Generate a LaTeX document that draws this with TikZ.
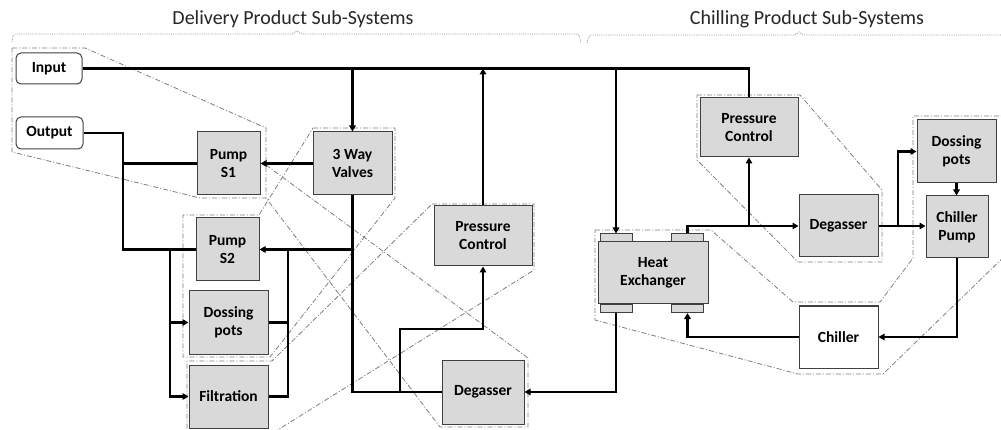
\documentclass[tikz,border=0pt]{standalone}
\usepackage{fontspec}
\setmainfont{Carlito}
\usetikzlibrary{arrows.meta}
\definecolor{boxfill}{HTML}{D9D9D9}
\definecolor{boxline}{HTML}{404040}
\definecolor{grpcol}{HTML}{7F7F7F}
\begin{document}
\begin{tikzpicture}[x=1pt,y=-1pt,
  blk/.style={draw=boxline,fill=boxfill,line width=1pt,inner sep=0pt,align=center,
    font=\bfseries\fontsize{15.5}{18}\selectfont},
  io/.style={blk,fill=white,rounded corners=5pt},
  tab/.style={draw=boxline,fill=boxfill,line width=1pt,inner sep=0pt,minimum width=32pt,minimum height=8pt},
  flow/.style={draw=black,line width=2.2pt},
  arr/.style={flow,-{Triangle[length=6pt,width=6.5pt]}},
  grp/.style={draw=grpcol,line width=0.8pt,dash pattern=on 5pt off 2pt on 1pt off 2pt},
  brc/.style={draw=grpcol!80,line width=0.8pt,dash pattern=on 1pt off 1.2pt,rounded corners=2pt},
  ttl/.style={font=\fontsize{20}{23}\selectfont,text=black!85}]
\clip (0,0) rectangle (1001,430);
\fill[white] (0,0) rectangle (1001,430);

% titles and braces
\node[ttl] (t1) at (293,19) {Delivery Product Sub-Systems};
\node[ttl] (t2) at (807,19) {Chilling Product Sub-Systems};
\draw[brc] (12,42) -- (13,34) -- (294,34) -- (297,30) -- (300,34) -- (579,34) -- (581,43);
\draw[brc] (587,43) -- (589,35) -- (796,35) -- (799,31) -- (802,35) -- (1003,35);

% group outlines
\draw[grp] (12,48) -- (85,48) -- (266,128) -- (266,198) -- (200,198) -- (12,152) -- cycle;
\draw[grp] (266,165) -- (528,358) -- (528,427) -- (440,427) -- (266,198);
\draw[grp] (313,128) -- (395,128) -- (395,198) -- (270,357) -- (183,357) -- (183,215) -- (259,215) -- cycle;
\draw[grp] (432,204) -- (534,204) -- (534,270) -- (268,436) -- (187,436) -- (187,361) -- (272,361) -- cycle;
\draw[grp] (697,95) -- (800,95) -- (882,190) -- (882,262) -- (798,262) -- (697,160) -- cycle;
\draw[grp] (595,230) -- (711,230) -- (793,302) -- (880,302) -- (913,258) -- (913,116) -- (1010,116)
  -- (1010,251) -- (883,374) -- (798,374) -- (595,320) -- cycle;

% boxes
\node[io,minimum width=66pt,minimum height=31pt] (in) at (49,68.5) {Input};
\node[io,minimum width=67pt,minimum height=32pt] (out) at (49.5,133) {Output};
\node[blk,minimum width=63pt,minimum height=63pt] (p1) at (228.5,163.5) {Pump\\S1};
\node[blk,minimum width=79pt,minimum height=63pt] (v3) at (352.5,163.5) {3 Way\\Valves};
\node[blk,minimum width=63pt,minimum height=63pt] (p2) at (227.5,249.5) {Pump\\S2};
\node[blk,minimum width=79pt,minimum height=63pt] (dp) at (228.5,322.5) {Dossing\\pots};
\node[blk,minimum width=79pt,minimum height=63pt] (fi) at (228.5,396.5) {Filtration};
\node[blk,minimum width=98pt,minimum height=60pt] (pcd) at (483,236) {Pressure\\Control};
\node[blk,minimum width=82pt,minimum height=64pt] (dgd) at (483,392) {Degasser};
\node[tab] (tTL) at (616,238) {};
\node[tab] (tTR) at (687.5,238) {};
\node[tab] (tBL) at (616,308.5) {};
\node[tab] (tBR) at (687.5,308.5) {};
\node[blk,minimum width=110pt,minimum height=62pt] (hx) at (653,273) {Heat\\Exchanger};
\node[blk,minimum width=98pt,minimum height=59pt] (pcc) at (749,127.5) {Pressure\\Control};
\node[blk,minimum width=79pt,minimum height=62pt] (dgc) at (838.5,226) {Degasser};
\node[blk,minimum width=79pt,minimum height=63pt] (dpc) at (956.5,151.5) {Dossing\\pots};
\node[blk,minimum width=62pt,minimum height=62pt] (cp) at (957,227) {Chiller\\Pump};
\node[blk,fill=white,minimum width=79pt,minimum height=62pt] (ch) at (838.5,337) {Chiller};

% junction coordinates
\coordinate (jo) at (123,0);
\coordinate (jl) at (170,0);
\coordinate (jr) at (288,0);
\coordinate (jd) at (400,329);
\coordinate (jc) at (898,0);

% connectors
\draw[flow] (in.east) -| (pcc.north);
\draw[arr] (in.east -| v3.north) -- (v3.north);
\draw[arr] (in.east -| tTL.north) -- (tTL.north);
\draw[arr] (pcd.north) -- (pcd.north |- in.east);
\draw[arr] (v3.west) -- (p1.east);
\draw[flow] (p1.west) -- (p1.west -| jo);
\draw[flow] (out.east) -| (jo |- p2.west) -- (p2.west);
\draw[arr] (jl |- p2.west) |- (dp.west);
\draw[arr] (jl |- p2.west) |- (fi.west);
\draw[flow] (jr |- p2.east) -- (jr |- fi.east) -- (fi.east);
\draw[flow] (dp.east) -- (dp.east -| jr);
\draw[arr] (v3.south |- p2.east) -- (p2.east);
\draw[flow] (v3.south) |- (dgd.west);
\draw[arr] (jd |- dgd.west) -- (jd) -| (pcd.south);
\draw[arr] (tBL.south) |- (dgd.east);
\draw[arr] (tTR.north) |- (dgc.west);
\draw[arr] (pcc.south |- dgc.west) -- (pcc.south);
\draw[arr] (dgc.east) -- (dgc.east -| cp.west);
\draw[arr] (jc |- dgc.east) |- (dpc.west);
\draw[arr] (dpc.south) -- (dpc.south |- cp.north);
\draw[arr] (cp.south) |- (ch.east);
\draw[arr] (ch.west) -| (tBR.south);
\end{tikzpicture}
\end{document}
